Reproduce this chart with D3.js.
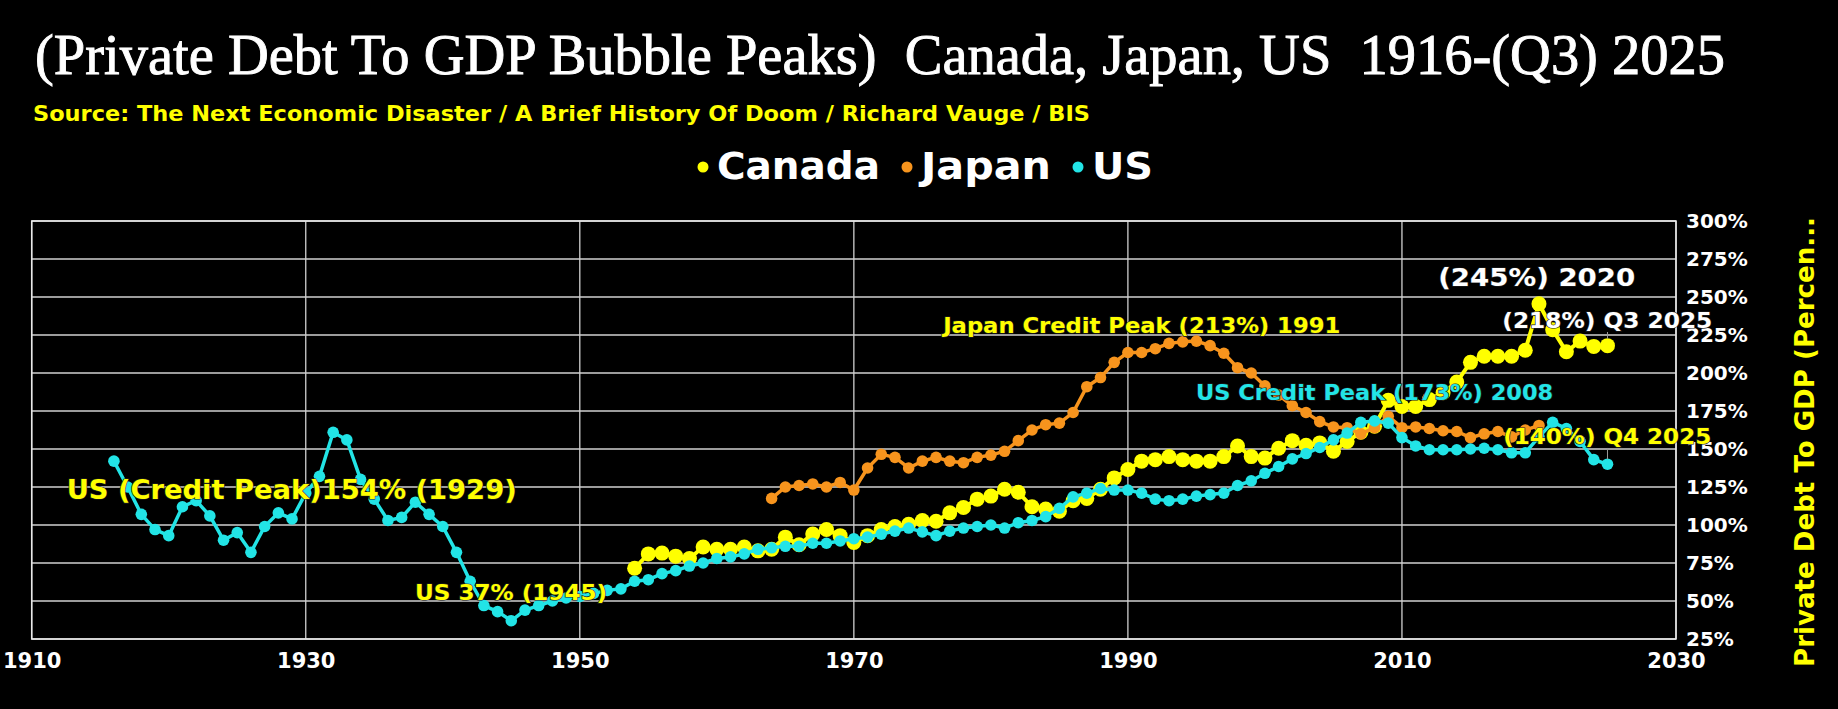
<!DOCTYPE html>
<html>
<head>
<meta charset="utf-8">
<script src="https://cdn.jsdelivr.net/npm/d3@7"></script>
<style>
    body { margin: 0; background: #000; }
    #chart { width: 1838px; height: 709px; }
</style>
</head>
<body>
<div id="chart"></div>
<script>
const canadaColor = "#FFFF00"
const japanColor = "#F7941D"
const usColor = "#22E4E6"

// years per series
const usYears = d3.range(1916, 2026);
const canadaYears = d3.range(1954, 2026);
const japanYears = d3.range(1964, 2021);

// private debt to GDP (%)
const usValues = [
    142, 125, 107, 97, 93, 112, 116, 106, 90, 95,
    82, 99, 108, 104, 121, 132, 161, 156, 130, 117,
    103, 105, 115, 107, 99, 82, 63, 47, 43, 37,
    44, 47, 50, 52, 53, 55, 57, 58, 63, 64,
    68, 70, 73, 75, 78, 79, 81, 84, 85, 86,
    86, 88, 88, 89.5, 91, 92, 94, 96, 98, 95.5,
    93, 96, 98, 99, 100, 98, 101.5, 103, 105.5, 111,
    118.5, 121, 124, 123, 123, 121, 117, 116, 117, 119,
    120, 121, 126, 129, 134, 138.5, 143.5, 147, 151, 156,
    160.5, 167.5, 168.5, 167, 157.5, 152, 149.5, 149.5, 149.5, 150,
    150.5, 149.5, 147.5, 147.5, 158, 167.5, 163.5, 155, 143, 140
];
const canadaValues = [
    71.5, 81, 81.5, 79.5, 78, 85.5, 84, 84, 85.5, 83,
    84, 92, 87, 94, 97, 93, 88.5, 93, 97, 99,
    100.5, 103, 102.5, 108, 111.5, 117, 119, 123.5, 121.5, 112,
    110.5, 109, 116, 117.5, 123.5, 131, 136.5, 142, 143, 145,
    143, 142, 142, 145, 152, 145, 144, 150.5, 155.5, 152.5,
    154, 148.5, 155, 161, 165, 182, 178, 178, 182.5, 187,
    194, 207, 211, 211, 211, 215, 245.5, 228.5, 214, 221,
    217.5, 218
];
const japanValues = [
    117.5, 125, 126, 127, 125, 128, 123, 137.5, 146.5, 144.5,
    137.5, 142, 144.5, 142, 141, 144.5, 146, 148.5, 155.5, 162.5,
    166, 167, 174, 191, 197, 207, 213.5, 213.5, 216, 219.5,
    220.5, 221, 218, 213, 203.5, 200, 191.5, 185.5, 178.5, 174,
    168, 164.5, 164, 160, 164, 171.5, 164, 164.5, 163.5, 162,
    161.5, 157.5, 160, 161.5, 158, 162.5, 165.5
];

const xTicks = [1910, 1930, 1950, 1970, 1990, 2010, 2030];
const yTicks = [25, 50, 75, 100, 125, 150, 175, 200, 225, 250, 275, 300];

const legendNames = ["Canada", "Japan", "US"];

// callouts anchored in data units (year, percent)
const notes = [
    { text: "US (Credit Peak)154% (1929)", year: 1912.55, value: 117.1, size: 26, len: 450, color: "#FFFF00" },
    { text: "US 37% (1945)", year: 1937.98, value: 50.7, size: 21, len: 192, color: "#FFFF00" },
    { text: "Japan Credit Peak (213%) 1991", year: 1976.52, value: 226.3, size: 20.5, len: 397, color: "#FFFF00" },
    { text: "US Credit Peak (173%) 2008", year: 1994.98, value: 182.2, size: 20.5, len: 357, color: usColor },
    { text: "(245%) 2020", year: 2012.65, value: 257.2, size: 24, len: 197, color: "#FFFFFF" },
    { text: "(218%) Q3 2025", year: 2017.32, value: 229.6, size: 20.5, len: 210, color: "#FFFFFF" },
    { text: "(140%) Q4 2025", year: 2017.39, value: 153.3, size: 20.5, len: 208, color: "#FFFF00" }
];

function drawChart() {
    const W = 1838, H = 709;
    const margin = { top: 221, right: 162, bottom: 70, left: 31.7 };

    const svg = d3.select("#chart")
        .append("svg")
        .attr("width", W)
        .attr("height", H)
        .style("background", "#000");

    const x = d3.scaleLinear()
        .domain([1910, 2030])
        .range([margin.left, W - margin.right]);

    const y = d3.scaleLinear()
        .domain([25, 300])
        .range([H - margin.bottom, margin.top]);

    // Title and source
    svg.append("text")
        .attr("x", 35)
        .attr("y", 74)
        .attr("textLength", 1690)
        .attr("lengthAdjust", "spacingAndGlyphs")
        .attr("xml:space", "preserve")
        .style("white-space", "pre")
        .style("font-family", "'Liberation Serif', 'DejaVu Serif', serif")
        .style("font-size", "56px")
        .style("fill", "#fff")
        .style("stroke", "#fff")
        .style("stroke-width", 0.9)
        .text("(Private Debt To GDP Bubble Peaks)  Canada, Japan, US  1916-(Q3) 2025");

    svg.append("text")
        .attr("x", 33)
        .attr("y", 121)
        .attr("textLength", 1057)
        .attr("lengthAdjust", "spacingAndGlyphs")
        .style("font-family", "'DejaVu Sans', Verdana, sans-serif")
        .style("font-weight", "bold")
        .style("font-size", "20.5px")
        .style("fill", "#FFFF00")
        .text("Source: The Next Economic Disaster / A Brief History Of Doom / Richard Vauge / BIS");

    // Legend
    const legendColors = [canadaColor, japanColor, usColor];
    const legendX = [703, 907, 1078];
    const legendLen = [163, 130, 61];
    const legend = svg.append("g").attr("class", "legend");
    const items = legend.selectAll(".legend-item")
        .data(legendNames)
        .enter().append("g")
        .attr("class", "legend-item")
        .attr("transform", (d, i) => "translate(" + legendX[i] + ",0)");
    items.append("circle")
        .attr("cx", 0)
        .attr("cy", 167)
        .attr("r", 5.5)
        .attr("fill", (d, i) => legendColors[i]);
    items.append("text")
        .attr("x", 14)
        .attr("y", 179)
        .attr("textLength", (d, i) => legendLen[i])
        .attr("lengthAdjust", "spacingAndGlyphs")
        .style("font-family", "'DejaVu Sans', Verdana, sans-serif")
        .style("font-weight", "bold")
        .style("font-size", "37px")
        .style("fill", "#fff")
        .text(d => d);

    // Grid
    const grid = svg.append("g").attr("class", "grid");
    grid.selectAll(".hgrid")
        .data(yTicks)
        .enter().append("line")
        .attr("x1", x(1910)).attr("x2", x(2030))
        .attr("y1", d => y(d)).attr("y2", d => y(d))
        .attr("stroke", "#d0d0d0")
        .attr("stroke-width", 1.3);
    grid.selectAll(".vgrid")
        .data(xTicks)
        .enter().append("line")
        .attr("x1", d => x(d)).attr("x2", d => x(d))
        .attr("y1", y(300)).attr("y2", y(25))
        .attr("stroke", "#d0d0d0")
        .attr("stroke-width", 1.3);
    svg.append("rect")
        .attr("x", x(1910))
        .attr("y", y(300))
        .attr("width", x(2030) - x(1910))
        .attr("height", y(25) - y(300))
        .attr("fill", "none")
        .attr("stroke", "#e8e8e8")
        .attr("stroke-width", 1.5);

    // Axes
    const xAxis = svg.append("g")
        .attr("transform", "translate(0," + y(25) + ")")
        .call(d3.axisBottom(x).tickValues(xTicks).tickFormat(d3.format("d")).tickSize(0).tickPadding(14));
    xAxis.select(".domain").remove();
    xAxis.selectAll("text")
        .attr("dy", "0.71em")
        .style("font-family", "'DejaVu Sans', Verdana, sans-serif")
        .style("font-weight", "bold")
        .style("font-size", "21px")
        .style("fill", "#fff");

    const yAxis = svg.append("g")
        .attr("transform", "translate(" + x(2030) + ",0)")
        .call(d3.axisRight(y).tickValues(yTicks).tickFormat(d => d + "%").tickSize(0).tickPadding(10));
    yAxis.select(".domain").remove();
    yAxis.selectAll("text")
        .style("font-family", "'DejaVu Sans', Verdana, sans-serif")
        .style("font-weight", "bold")
        .style("font-size", "20px")
        .style("fill", "#fff");

    svg.append("text")
        .attr("transform", "translate(1814,442) rotate(-90)")
        .attr("text-anchor", "middle")
        .attr("textLength", 450)
        .attr("lengthAdjust", "spacingAndGlyphs")
        .style("font-family", "'DejaVu Sans', Verdana, sans-serif")
        .style("font-weight", "bold")
        .style("font-size", "26px")
        .style("fill", "#FFFF00")
        .text("Private Debt To GDP (Percen...");

    // Series
    const series = [
        { name: "Canada", years: canadaYears, values: canadaValues, color: canadaColor, r: 7.5, w: 4 },
        { name: "Japan", years: japanYears, values: japanValues, color: japanColor, r: 5.8, w: 3.5 },
        { name: "US", years: usYears, values: usValues, color: usColor, r: 5.8, w: 3.5 }
    ];

    const line = d3.line()
        .x(d => x(d[0]))
        .y(d => y(d[1]));

    series.forEach(s => {
        const pts = s.years.map((yr, i) => [yr, s.values[i]]);
        const g = svg.append("g").attr("class", "series " + s.name);
        g.append("path")
            .datum(pts)
            .attr("fill", "none")
            .attr("stroke", s.color)
            .attr("stroke-width", s.w)
            .attr("d", line);
        g.selectAll("circle")
            .data(pts)
            .enter().append("circle")
            .attr("cx", d => x(d[0]))
            .attr("cy", d => y(d[1]))
            .attr("r", s.r)
            .attr("fill", s.color);
    });

    // small leader lines for the 2025 callouts
    svg.append("line")
        .attr("x1", x(2025)).attr("x2", x(2025))
        .attr("y1", y(229.6) + 4).attr("y2", y(218) - 7)
        .attr("stroke", "#999").attr("stroke-width", 1);
    svg.append("line")
        .attr("x1", x(2025)).attr("x2", x(2025))
        .attr("y1", y(153.3) + 4).attr("y2", y(140) - 5)
        .attr("stroke", "#999").attr("stroke-width", 1);

    // Callouts
    svg.selectAll(".note")
        .data(notes)
        .enter().append("text")
        .attr("class", "note")
        .attr("x", d => x(d.year))
        .attr("y", d => y(d.value))
        .attr("textLength", d => d.len)
        .attr("lengthAdjust", "spacingAndGlyphs")
        .style("font-family", "'DejaVu Sans', Verdana, sans-serif")
        .style("font-weight", "bold")
        .style("font-size", d => d.size + "px")
        .style("fill", d => d.color)
        .style("stroke", "#222")
        .style("stroke-width", 1.2)
        .style("paint-order", "stroke")
        .text(d => d.text);
}

drawChart();
</script>
</body>
</html>
